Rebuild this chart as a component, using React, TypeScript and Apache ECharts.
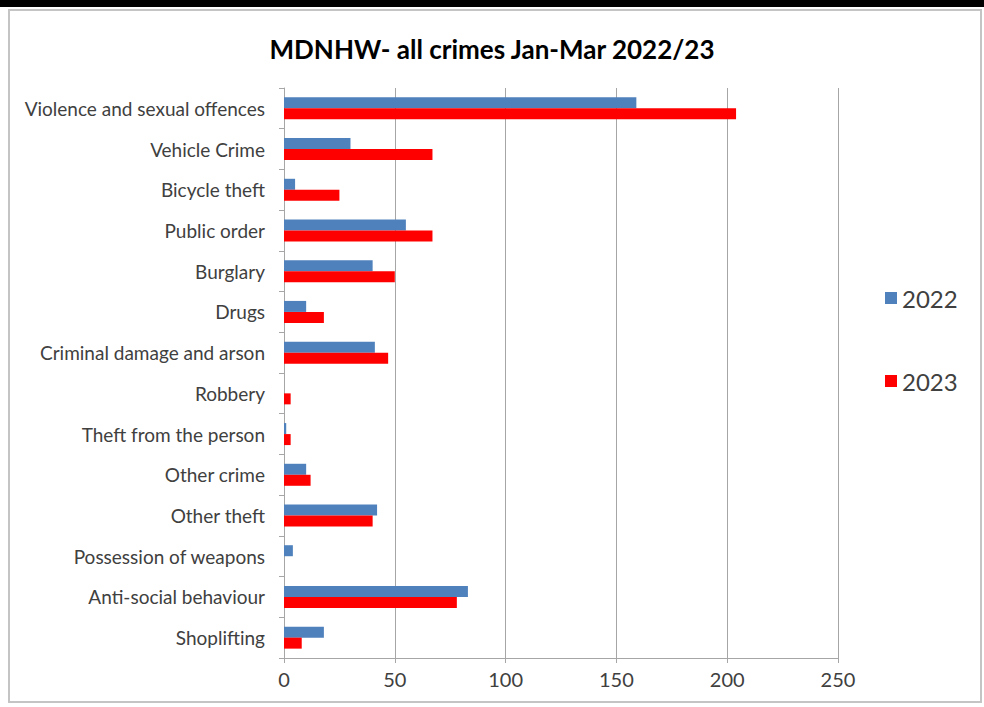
import React, { useEffect, useRef } from "react";
import * as echarts from "echarts";

const categories = [
  "Violence and sexual offences",
  "Vehicle Crime",
  "Bicycle theft",
  "Public order",
  "Burglary",
  "Drugs",
  "Criminal damage and arson",
  "Robbery",
  "Theft from the person",
  "Other crime",
  "Other theft",
  "Possession of weapons",
  "Anti-social behaviour",
  "Shoplifting",
];
const values2022 = [159, 30, 5, 55, 40, 10, 41, 0, 1, 10, 42, 4, 83, 18];
const values2023 = [204, 67, 25, 67, 50, 18, 47, 3, 3, 12, 40, 0, 78, 8];
const xTicks = { min: 0, max: 250, interval: 50 };
const seriesNames = ["2022", "2023"];

const FONT = "Lato, 'Open Sans', sans-serif";
const TEXT = "#404040";

export default function App() {
  const ref = useRef<HTMLDivElement>(null);
  useEffect(() => {
    if (!ref.current) return;
    const chart = echarts.init(ref.current, null, { renderer: "svg" });
    chart.setOption({
      animation: false,
      backgroundColor: "#ffffff",
      title: {
        text: "MDNHW- all crimes Jan-Mar 2022/23",
        left: "center",
        top: 31,
        textStyle: { fontFamily: FONT, fontSize: 26, fontWeight: "bold", color: "#000000" },
      },
      graphic: [
        { type: "rect", shape: { x: 0, y: 0, width: 984, height: 7 }, style: { fill: "#000000" }, silent: true },
        {
          type: "rect",
          shape: { x: 9, y: 10, width: 972, height: 692 },
          style: { fill: "none", stroke: "#c4c4c4", lineWidth: 2 },
          silent: true,
        },
      ],
      legend: {
        orient: "vertical",
        left: 880,
        top: 281,
        itemWidth: 12,
        itemHeight: 12,
        itemGap: 59,
        icon: "rect",
        textStyle: { fontFamily: FONT, fontSize: 24, color: TEXT },
        data: seriesNames,
      },
      grid: { left: 284, right: 146, top: 88, bottom: 49, containLabel: false },
      xAxis: {
        type: "value",
        min: xTicks.min,
        max: xTicks.max,
        interval: xTicks.interval,
        axisLine: { show: true, lineStyle: { color: "#a6a6a6", width: 1 } },
        axisTick: { show: true, length: 5, lineStyle: { color: "#a6a6a6" } },
        axisLabel: { fontFamily: FONT, fontSize: 20, color: TEXT, margin: 11 },
        splitLine: { show: true, lineStyle: { color: "#a6a6a6", width: 1 } },
      },
      yAxis: {
        type: "category",
        inverse: true,
        data: categories,
        axisLine: { show: true, lineStyle: { color: "#a6a6a6", width: 1 } },
        axisTick: { show: true, length: 5, lineStyle: { color: "#a6a6a6" } },
        axisLabel: { fontFamily: FONT, fontSize: 19, color: TEXT, margin: 19 },
        splitLine: { show: false },
      },
      series: [
        {
          name: seriesNames[0],
          type: "bar",
          data: values2022,
          barWidth: 11,
          barGap: "0%",
          itemStyle: { color: "#4f81bd" },
        },
        {
          name: seriesNames[1],
          type: "bar",
          data: values2023,
          barWidth: 11,
          barGap: "0%",
          itemStyle: { color: "#ff0000" },
        },
      ],
    });
    return () => chart.dispose();
  }, []);
  return (
    <div
      ref={ref}
      style={{ position: "fixed", left: 0, top: 0, width: 984, height: 707 }}
    />
  );
}
